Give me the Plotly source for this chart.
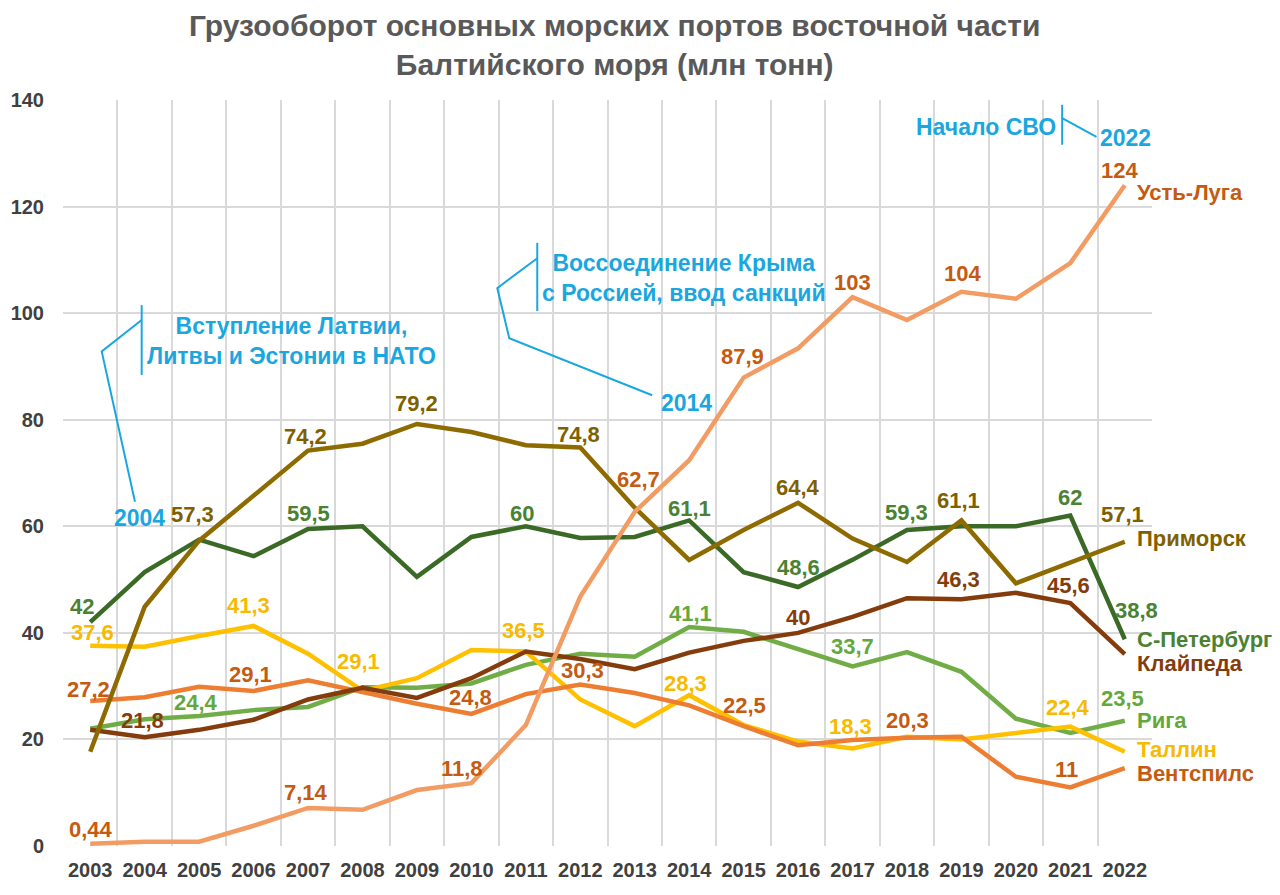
import plotly.graph_objects as go

years = [str(y) for y in range(2003, 2023)]

ust_luga = [0.44, 0.8, 0.8, 3.8, 7.14, 6.8, 10.5, 11.8, 22.7, 46.8, 62.7, 72.4, 87.9, 93.4, 103, 98.7, 104, 102.7, 109.4, 124]
primorsk = [17.7, 44.9, 57.3, 65.8, 74.2, 75.5, 79.2, 77.7, 75.2, 74.8, 63.5, 53.7, 59.3, 64.4, 57.7, 53.3, 61.1, 49.3, 53.2, 57.1]
spb = [42, 51.4, 57.5, 54.4, 59.5, 60.0, 50.5, 58.0, 60, 57.8, 58.0, 61.1, 51.4, 48.6, 53.7, 59.3, 60.0, 60.0, 62, 38.8]
klaipeda = [21.8, 20.4, 21.8, 23.7, 27.5, 29.7, 27.8, 31.5, 36.5, 35.1, 33.2, 36.3, 38.5, 40, 43.0, 46.5, 46.3, 47.5, 45.6, 36.0]
riga = [22.0, 23.8, 24.4, 25.5, 26.1, 29.8, 29.7, 30.5, 34.0, 36.1, 35.5, 41.1, 40.2, 37.0, 33.7, 36.4, 32.7, 23.9, 21.2, 23.5]
tallinn = [37.6, 37.4, 39.4, 41.3, 36.1, 29.1, 31.5, 36.8, 36.5, 27.5, 22.5, 28.3, 22.7, 19.6, 18.3, 20.5, 20.0, 21.3, 22.4, 17.7]
ventspils = [27.2, 27.9, 29.9, 29.1, 31.1, 28.9, 26.7, 24.8, 28.5, 30.3, 28.7, 26.4, 22.5, 18.9, 19.9, 20.3, 20.5, 13.0, 11, 14.6]

names = ["Рига", "Таллин", "Вентспилс", "Клайпеда", "С-Петербург", "Приморск", "Усть-Луга"]
series = [riga, tallinn, ventspils, klaipeda, spb, primorsk, ust_luga]

FONT = "Liberation Sans, Arial, sans-serif"
BLUE = "#1AA7E0"

# style per series: line color, label color, labelled points (index, dx, dy), name label y-offset
style = {
    "Рига": ("#70AD47", "#64A83C", [(2, -3, 13), (11, 1, 14), (14, 0, 20), (19, -2, 22)], 0),
    "Таллин": ("#FFC000", "#F7BA00", [(0, 2, 13), (3, -5, 20), (5, -4, 29), (8, -2, 21), (11, -4, 12), (14, -2, 22), (18, -2, 19)], 2),
    "Вентспилс": ("#ED7D31", "#C55A11", [(0, -2, 12), (3, -3, 16), (7, -1, 16), (9, 2, 14), (12, 1, 21), (15, 1, 17), (18, -4, 18)], -5),
    "Клайпеда": ("#843C0C", "#843C0C", [(0, 52, 9), (13, 0, 15), (16, -3, 20), (18, -2, 18)], -9),
    "С-Петербург": ("#3A6A25", "#4A8232", [(0, -8, 16), (4, 0, 15), (8, -4, 13), (11, 0, 12), (13, 0, 20), (15, 0, 18), (18, 0, 18), (19, 12, 29)], 0),
    "Приморск": ("#8E6B00", "#7F6000", [(2, -7, 26), (4, -3, 14), (6, 0, 20), (9, -2, 13), (13, 0, 15), (16, -3, 20), (19, -2, 27)], 3),
    "Усть-Луга": ("#F29C63", "#C55A11", [(0, 1, 14), (4, -2, 15), (7, -9, 15), (10, 4, 32), (12, -1, 21), (14, 0, 15), (16, 1, 18), (19, -5, 15)], -7),
}


def fmt(v):
    s = ("%.2f" % v).rstrip("0").rstrip(".")
    return s.replace(".", ",")


fig = go.Figure()
annotations = []
for name, vals in zip(names, series):
    lc, tc, labs, nshift = style[name]
    fig.add_trace(go.Scatter(x=years, y=vals, mode="lines", name=name,
                             line=dict(color=lc, width=4.5), showlegend=False,
                             hoverinfo="skip"))
    for i, dx, dy in labs:
        annotations.append(dict(x=i, y=vals[i], xref="x", yref="y", text="<b>" + fmt(vals[i]) + "</b>",
                                showarrow=False, xshift=dx, yshift=dy, xanchor="center", yanchor="middle",
                                font=dict(family=FONT, size=22, color=tc)))
    annotations.append(dict(x=len(years) - 1, y=vals[-1], xref="x", yref="y", text="<b>" + name + "</b>",
                            showarrow=False, xshift=10, yshift=nshift, xanchor="left", yanchor="middle",
                            font=dict(family=FONT, size=22, color=tc)))

# event callouts (category index coordinates)
events = [
    dict(x=3.69, y=94.8, text="<b>Вступление Латвии,<br>Литвы и Эстонии в НАТО</b>", xanchor="center"),
    dict(x=0.90, y=61.6, text="<b>2004</b>", xanchor="center"),
    dict(x=10.90, y=106.6, text="<b>Воссоединение Крыма<br>с Россией, ввод санкций</b>", xanchor="center"),
    dict(x=10.95, y=83.1, text="<b>2014</b>", xanchor="center"),
    dict(x=17.77, y=134.9, text="<b>Начало СВО</b>", xanchor="right"),
    dict(x=18.50, y=132.9, text="<b>2022</b>", xanchor="left"),
]
for e in events:
    annotations.append(dict(x=e["x"], y=e["y"], xref="x", yref="y", text=e["text"], showarrow=False,
                            xanchor=e["xanchor"], yanchor="middle", align="center",
                            font=dict(family=FONT, size=23, color=BLUE)))

annotations.append(dict(xref="paper", yref="paper", x=0.506, y=1.0737, xanchor="center", yanchor="middle",
                        text="<b>Грузооборот основных морских портов восточной части<br>Балтийского моря (млн тонн)</b>",
                        showarrow=False, align="center",
                        font=dict(family=FONT, size=30, color="#595959")))

shapes = []
callout_paths = [
    "M 0.945 101.5 L 0.945 88.4",
    "M 0.945 98.7 L 0.211 92.8 L 0.822 64.6",
    "M 8.21 113.2 L 8.21 100.4",
    "M 8.21 110.3 L 7.476 104.7 L 7.696 95.3 L 10.32 84.6",
    "M 17.85 139.1 L 17.85 131.6",
    "M 17.85 136.6 L 18.48 133.1",
]
for p in callout_paths:
    shapes.append(dict(type="path", xref="x", yref="y", path=p,
                       line=dict(color=BLUE, width=2)))

fig.update_layout(
    width=1280, height=895,
    paper_bgcolor="white", plot_bgcolor="white",
    margin=dict(l=63, r=128, t=100, b=49),
    annotations=annotations,
    shapes=shapes,
    xaxis=dict(type="category", tickson="boundaries", showgrid=True, gridcolor="#D9D9D9", gridwidth=1.5,
               ticks="", showline=False, zeroline=False, range=[-0.5, 19.5],
               tickfont=dict(family=FONT, size=20, color="#404040"),
               ticklabelstandoff=10, tickprefix="<b>", ticksuffix="</b>"),
    yaxis=dict(range=[0, 140], dtick=20, showgrid=True, gridcolor="#D9D9D9", gridwidth=1.5,
               zeroline=False, showline=False, ticks="",
               tickfont=dict(family=FONT, size=20, color="#404040"),
               ticklabelstandoff=18, tickprefix="<b>", ticksuffix="</b>"),
)

fig.write_html("out.html", config={"displayModeBar": False},
               post_script="document.body.style.margin='0';")
